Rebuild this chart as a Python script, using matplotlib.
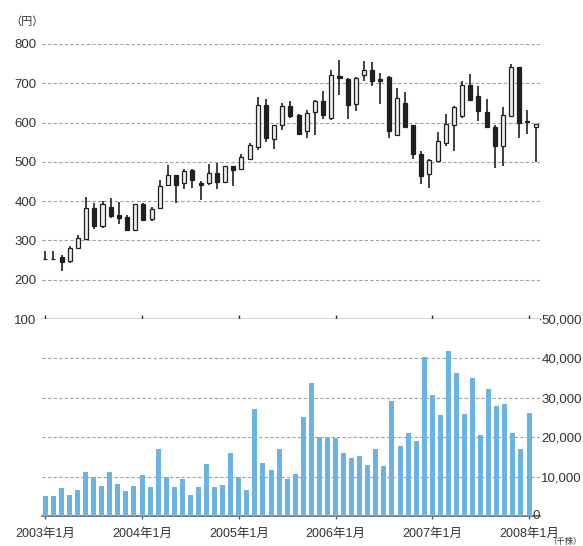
import numpy as np
import matplotlib
matplotlib.use('Agg')
import matplotlib.pyplot as plt

plt.rcParams['font.family'] = ['Liberation Sans', 'Noto Sans CJK JP']

# monthly prices (yen), 2003/1 .. 2008/1
opens = [252, 252, 259, 248, 282, 303, 383, 338, 386, 364, 360, 326,
         394, 355, 382, 440, 466, 445, 480, 446, 445, 472, 449, 489,
         483, 508, 537, 644, 557, 595, 643, 618, 578, 628, 656, 612,
         719, 711, 647, 720, 733, 710, 715, 569, 651, 593, 519, 468,
         503, 548, 593, 616, 696, 668, 627, 588, 540, 618, 741, 603,
         590]
highs = [272, 274, 262, 286, 313, 411, 396, 400, 407, 398, 365, 393,
         396, 386, 455, 493, 467, 483, 483, 451, 495, 497, 490, 490,
         519, 548, 665, 661, 594, 650, 656, 621, 633, 658, 681, 734,
         760, 713, 715, 757, 754, 726, 719, 689, 678, 595, 527, 508,
         576, 622, 641, 705, 723, 694, 660, 595, 639, 749, 742, 633,
         597]
lows = [250, 250, 222, 242, 279, 300, 328, 331, 358, 343, 323, 324,
        349, 350, 380, 438, 396, 430, 434, 402, 441, 430, 446, 438,
        480, 506, 531, 551, 534, 582, 612, 570, 562, 568, 610, 607,
        671, 610, 630, 706, 692, 647, 562, 567, 588, 508, 444, 434,
        499, 540, 527, 612, 654, 605, 588, 485, 489, 613, 562, 571,
        500]
closes = [253, 254, 245, 280, 305, 383, 338, 392, 362, 358, 326, 392,
          351, 381, 438, 466, 442, 478, 453, 442, 471, 448, 489, 480,
          512, 542, 644, 562, 593, 641, 616, 572, 624, 654, 620, 722,
          713, 644, 713, 734, 705, 707, 578, 662, 590, 521, 463, 506,
          552, 596, 639, 696, 658, 630, 590, 540, 620, 741, 599, 601,
          596]

# monthly volume (thousand shares)
volumes = [5100, 5100, 7150, 5360, 6640, 11230, 9790, 7660, 11230, 8170, 6380, 7660,
           10470, 7400, 17100, 9960, 7400, 9450, 5360, 7400, 13280, 7400, 7910, 16090,
           9960, 6640, 27060, 13530, 11740, 17100, 9450, 10720, 25020, 33700, 20090, 20090,
           19830, 16090, 14810, 15320, 13020, 17100, 12770, 29110, 17870, 20940, 19150, 40340,
           30640, 25530, 41870, 36260, 25790, 34980, 20680, 32170, 27830, 28340, 21190, 17100,
           26040]

x_labels = ['2003年1月', '2004年1月', '2005年1月', '2006年1月', '2007年1月', '2008年1月']
price_ticks = [100, 200, 300, 400, 500, 600, 700, 800]
vol_ticks = [0, 10000, 20000, 30000, 40000, 50000]

W, H = 583, 546
fig = plt.figure(figsize=(W / 100, H / 100), dpi=100)
left, right = 42 / W, 540 / W
split = 1 - 319 / H
ax_p = fig.add_axes([left, split, right - left, (1 - 44 / H) - split])
ax_v = fig.add_axes([left, 1 - 516 / H, right - left, split - (1 - 516 / H)])

n = len(closes)
months = np.arange(n)
xlim = (-0.41, 61.36)
year_ticks = months[::12]
# candles in the original are spread a touch wider than the month ticks
cx = months * 1.0136

grid_kw = dict(color='#a0a0a0', linestyle=(0, (3, 2)), linewidth=0.8)
text_c = '#333333'

# price panel
o = np.array(opens)
c = np.array(closes)
up = c >= o
ax_p.vlines(cx, lows, highs, color='#231f20', linewidth=1.2, zorder=2)
ax_p.bar(cx, np.maximum(np.abs(c - o), 1.0), bottom=np.minimum(o, c), width=0.5,
         color=np.where(up, '#eeeeee', '#231f20'), edgecolor='#231f20',
         linewidth=0.9, zorder=3)
ax_p.set_xlim(*xlim)
ax_p.set_ylim(100, 800)
ax_p.set_yticks(price_ticks)
ax_p.set_yticklabels([str(t) for t in price_ticks])
for t in price_ticks[1:]:
    ax_p.axhline(t, zorder=1, **grid_kw)
ax_p.set_xticks(year_ticks)
ax_p.set_xticklabels([])
ax_p.tick_params(axis='x', direction='in', length=3, width=1, color='#333333')
ax_p.tick_params(axis='y', length=0, pad=4, labelsize=9.5, labelcolor=text_c)
for s in ['top', 'left', 'right']:
    ax_p.spines[s].set_visible(False)
ax_p.spines['bottom'].set_color('#333333')
ax_p.spines['bottom'].set_linewidth(1.0)
fig.text(26.5 / W, 1 - 22 / H, '（円）', fontsize=8, color=text_c,
         ha='center', va='center')

# volume panel
ax_v.bar(months, volumes, width=0.62, color='#6ab3e3', zorder=3)
ax_v.set_xlim(*xlim)
ax_v.set_ylim(0, 50000)
for t in vol_ticks[1:-1]:
    ax_v.axhline(t, zorder=1, **grid_kw)
ax_v.yaxis.tick_right()
ax_v.set_yticks(vol_ticks)
ax_v.set_yticklabels(['' if t == 0 else f'{t:,}' for t in vol_ticks])
ax_v.text(1.0, 0, str(vol_ticks[0]), transform=ax_v.transAxes, fontsize=9.5,
          color=text_c, ha='right', va='center')
ax_v.tick_params(axis='y', length=0, pad=1, labelsize=9.5, labelcolor=text_c)
for lab in ax_v.get_yticklabels():
    lab.set_horizontalalignment('left')
ax_v.set_xticks(year_ticks)
ax_v.set_xticklabels(x_labels)
ax_v.tick_params(axis='x', direction='out', length=2, width=1, color='#555555',
                 pad=6.5, labelsize=9, labelcolor=text_c)
for s in ['top', 'left', 'right']:
    ax_v.spines[s].set_visible(False)
ax_v.spines['bottom'].set_color('#666666')
ax_v.spines['bottom'].set_linewidth(1.2)
fig.text(582 / W, 1 - 541.5 / H, '（千株）', fontsize=6, color=text_c,
         ha='right', va='center')

fig.savefig('out.png', dpi=100)
